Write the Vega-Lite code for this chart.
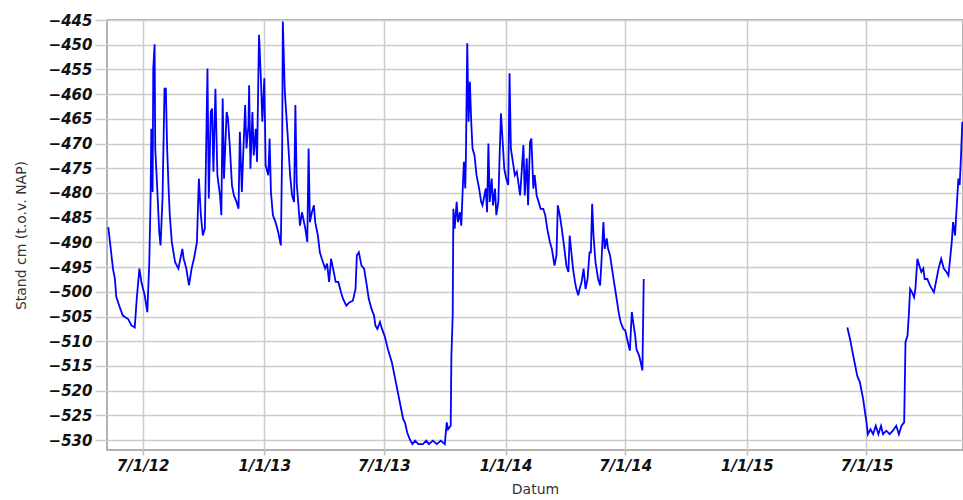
{
  "$schema": "https://vega.github.io/schema/vega-lite/v6.json",
  "width": 856,
  "height": 430,
  "autosize": {"type": "none"},
  "padding": {"left": 107, "top": 20, "right": 0, "bottom": 50},
  "background": "white",
  "config": {
    "view": {"stroke": "#999999", "strokeWidth": 1.5},
    "font": "DejaVu Sans"
  },
  "data": {
    "values": [
      {"date": "2012-05-10", "stand": -486.9},
      {"date": "2012-05-17", "stand": -495.3},
      {"date": "2012-05-20", "stand": -497.4},
      {"date": "2012-05-22", "stand": -501.0},
      {"date": "2012-05-28", "stand": -503.4},
      {"date": "2012-06-01", "stand": -504.8},
      {"date": "2012-06-09", "stand": -505.5},
      {"date": "2012-06-14", "stand": -506.8},
      {"date": "2012-06-19", "stand": -507.2},
      {"date": "2012-06-22", "stand": -501.4},
      {"date": "2012-06-26", "stand": -495.3},
      {"date": "2012-06-29", "stand": -498.0},
      {"date": "2012-07-04", "stand": -500.7},
      {"date": "2012-07-08", "stand": -504.1},
      {"date": "2012-07-11", "stand": -494.0},
      {"date": "2012-07-13", "stand": -480.5},
      {"date": "2012-07-14", "stand": -467.0},
      {"date": "2012-07-16", "stand": -479.8},
      {"date": "2012-07-17", "stand": -454.8},
      {"date": "2012-07-19", "stand": -449.9},
      {"date": "2012-07-20", "stand": -471.0},
      {"date": "2012-07-23", "stand": -479.1},
      {"date": "2012-07-26", "stand": -487.9},
      {"date": "2012-07-28", "stand": -490.6},
      {"date": "2012-07-31", "stand": -481.0},
      {"date": "2012-08-03", "stand": -458.9},
      {"date": "2012-08-05", "stand": -458.9},
      {"date": "2012-08-07", "stand": -471.0},
      {"date": "2012-08-09", "stand": -478.4},
      {"date": "2012-08-11", "stand": -484.5},
      {"date": "2012-08-14", "stand": -489.9},
      {"date": "2012-08-19", "stand": -494.0},
      {"date": "2012-08-24", "stand": -495.3},
      {"date": "2012-08-26", "stand": -494.0},
      {"date": "2012-08-30", "stand": -491.3},
      {"date": "2012-09-01", "stand": -493.3},
      {"date": "2012-09-05", "stand": -495.3},
      {"date": "2012-09-09", "stand": -498.7},
      {"date": "2012-09-13", "stand": -495.3},
      {"date": "2012-09-17", "stand": -493.0},
      {"date": "2012-09-21", "stand": -490.0},
      {"date": "2012-09-24", "stand": -477.1},
      {"date": "2012-09-27", "stand": -484.5},
      {"date": "2012-09-30", "stand": -488.6},
      {"date": "2012-10-03", "stand": -487.2},
      {"date": "2012-10-07", "stand": -454.8},
      {"date": "2012-10-09", "stand": -481.1},
      {"date": "2012-10-12", "stand": -463.6},
      {"date": "2012-10-14", "stand": -462.9},
      {"date": "2012-10-16", "stand": -475.7},
      {"date": "2012-10-19", "stand": -458.9},
      {"date": "2012-10-22", "stand": -476.4},
      {"date": "2012-10-26", "stand": -480.5},
      {"date": "2012-10-28", "stand": -484.5},
      {"date": "2012-10-30", "stand": -460.9},
      {"date": "2012-11-01", "stand": -477.1},
      {"date": "2012-11-05", "stand": -463.6},
      {"date": "2012-11-07", "stand": -464.9},
      {"date": "2012-11-10", "stand": -471.0},
      {"date": "2012-11-13", "stand": -478.4},
      {"date": "2012-11-16", "stand": -480.5},
      {"date": "2012-11-20", "stand": -481.8},
      {"date": "2012-11-23", "stand": -483.2},
      {"date": "2012-11-25", "stand": -467.6},
      {"date": "2012-11-28", "stand": -479.8},
      {"date": "2012-11-30", "stand": -472.4},
      {"date": "2012-12-03", "stand": -462.2},
      {"date": "2012-12-05", "stand": -471.0},
      {"date": "2012-12-08", "stand": -466.3},
      {"date": "2012-12-09", "stand": -458.2},
      {"date": "2012-12-11", "stand": -475.1},
      {"date": "2012-12-14", "stand": -463.6},
      {"date": "2012-12-16", "stand": -472.4},
      {"date": "2012-12-19", "stand": -467.0},
      {"date": "2012-12-21", "stand": -473.7},
      {"date": "2012-12-23", "stand": -456.1},
      {"date": "2012-12-24", "stand": -448.0},
      {"date": "2012-12-27", "stand": -457.5},
      {"date": "2012-12-29", "stand": -465.6},
      {"date": "2013-01-01", "stand": -456.8},
      {"date": "2013-01-03", "stand": -474.4},
      {"date": "2013-01-07", "stand": -476.4},
      {"date": "2013-01-09", "stand": -469.0},
      {"date": "2013-01-11", "stand": -479.8},
      {"date": "2013-01-14", "stand": -484.5},
      {"date": "2013-01-18", "stand": -485.9},
      {"date": "2013-01-22", "stand": -487.9},
      {"date": "2013-01-26", "stand": -490.6},
      {"date": "2013-01-28", "stand": -471.0},
      {"date": "2013-01-29", "stand": -445.3},
      {"date": "2013-02-01", "stand": -459.5},
      {"date": "2013-02-05", "stand": -467.6},
      {"date": "2013-02-09", "stand": -476.4},
      {"date": "2013-02-12", "stand": -480.5},
      {"date": "2013-02-15", "stand": -481.8},
      {"date": "2013-02-17", "stand": -462.2},
      {"date": "2013-02-19", "stand": -478.0},
      {"date": "2013-02-22", "stand": -483.2},
      {"date": "2013-02-24", "stand": -486.6},
      {"date": "2013-02-27", "stand": -483.9},
      {"date": "2013-03-02", "stand": -485.9},
      {"date": "2013-03-04", "stand": -487.2},
      {"date": "2013-03-07", "stand": -489.9},
      {"date": "2013-03-09", "stand": -471.0},
      {"date": "2013-03-11", "stand": -485.9},
      {"date": "2013-03-14", "stand": -483.9},
      {"date": "2013-03-17", "stand": -482.5},
      {"date": "2013-03-19", "stand": -485.9},
      {"date": "2013-03-23", "stand": -488.6},
      {"date": "2013-03-26", "stand": -492.0},
      {"date": "2013-03-29", "stand": -493.3},
      {"date": "2013-04-03", "stand": -495.3},
      {"date": "2013-04-06", "stand": -494.3},
      {"date": "2013-04-09", "stand": -498.0},
      {"date": "2013-04-12", "stand": -493.3},
      {"date": "2013-04-15", "stand": -495.3},
      {"date": "2013-04-19", "stand": -498.0},
      {"date": "2013-04-23", "stand": -498.0},
      {"date": "2013-04-27", "stand": -500.1},
      {"date": "2013-04-30", "stand": -501.4},
      {"date": "2013-05-05", "stand": -502.8},
      {"date": "2013-05-10", "stand": -502.1},
      {"date": "2013-05-15", "stand": -501.8},
      {"date": "2013-05-19", "stand": -499.4},
      {"date": "2013-05-21", "stand": -492.6},
      {"date": "2013-05-24", "stand": -492.0},
      {"date": "2013-05-28", "stand": -494.7},
      {"date": "2013-06-01", "stand": -495.3},
      {"date": "2013-06-05", "stand": -498.7},
      {"date": "2013-06-08", "stand": -501.4},
      {"date": "2013-06-12", "stand": -503.4},
      {"date": "2013-06-16", "stand": -504.8},
      {"date": "2013-06-18", "stand": -506.8},
      {"date": "2013-06-21", "stand": -507.5},
      {"date": "2013-06-25", "stand": -506.1},
      {"date": "2013-06-28", "stand": -507.5},
      {"date": "2013-07-02", "stand": -508.9},
      {"date": "2013-07-07", "stand": -511.6},
      {"date": "2013-07-13", "stand": -514.3},
      {"date": "2013-07-18", "stand": -517.6},
      {"date": "2013-07-23", "stand": -521.0},
      {"date": "2013-07-27", "stand": -523.7},
      {"date": "2013-07-30", "stand": -525.7},
      {"date": "2013-08-02", "stand": -526.5},
      {"date": "2013-08-05", "stand": -528.4},
      {"date": "2013-08-09", "stand": -529.8},
      {"date": "2013-08-13", "stand": -530.8},
      {"date": "2013-08-17", "stand": -530.1},
      {"date": "2013-08-22", "stand": -530.8},
      {"date": "2013-08-29", "stand": -530.8},
      {"date": "2013-09-03", "stand": -530.1},
      {"date": "2013-09-07", "stand": -530.8},
      {"date": "2013-09-13", "stand": -530.1},
      {"date": "2013-09-19", "stand": -530.8},
      {"date": "2013-09-25", "stand": -530.1},
      {"date": "2013-10-01", "stand": -530.8},
      {"date": "2013-10-04", "stand": -526.4},
      {"date": "2013-10-06", "stand": -527.8},
      {"date": "2013-10-10", "stand": -527.1},
      {"date": "2013-10-11", "stand": -512.9},
      {"date": "2013-10-13", "stand": -504.8},
      {"date": "2013-10-14", "stand": -483.2},
      {"date": "2013-10-16", "stand": -487.2},
      {"date": "2013-10-19", "stand": -481.8},
      {"date": "2013-10-21", "stand": -485.9},
      {"date": "2013-10-24", "stand": -483.9},
      {"date": "2013-10-26", "stand": -486.6},
      {"date": "2013-10-29", "stand": -476.4},
      {"date": "2013-10-30", "stand": -473.7},
      {"date": "2013-11-01", "stand": -479.1},
      {"date": "2013-11-02", "stand": -472.4},
      {"date": "2013-11-04", "stand": -449.7},
      {"date": "2013-11-06", "stand": -465.6},
      {"date": "2013-11-08", "stand": -457.5},
      {"date": "2013-11-10", "stand": -465.6},
      {"date": "2013-11-12", "stand": -471.0},
      {"date": "2013-11-15", "stand": -472.4},
      {"date": "2013-11-18", "stand": -476.4},
      {"date": "2013-11-22", "stand": -479.1},
      {"date": "2013-11-25", "stand": -481.8},
      {"date": "2013-11-27", "stand": -482.5},
      {"date": "2013-11-30", "stand": -480.5},
      {"date": "2013-12-02", "stand": -479.1},
      {"date": "2013-12-04", "stand": -483.9},
      {"date": "2013-12-06", "stand": -470.0},
      {"date": "2013-12-08", "stand": -481.8},
      {"date": "2013-12-11", "stand": -477.1},
      {"date": "2013-12-13", "stand": -482.5},
      {"date": "2013-12-16", "stand": -479.1},
      {"date": "2013-12-18", "stand": -484.5},
      {"date": "2013-12-21", "stand": -481.8},
      {"date": "2013-12-23", "stand": -472.4},
      {"date": "2013-12-25", "stand": -463.9},
      {"date": "2013-12-27", "stand": -468.3},
      {"date": "2013-12-30", "stand": -475.1},
      {"date": "2014-01-02", "stand": -477.1},
      {"date": "2014-01-05", "stand": -478.4},
      {"date": "2014-01-07", "stand": -455.8},
      {"date": "2014-01-09", "stand": -471.0},
      {"date": "2014-01-12", "stand": -473.7},
      {"date": "2014-01-15", "stand": -476.4},
      {"date": "2014-01-18", "stand": -475.7},
      {"date": "2014-01-23", "stand": -480.5},
      {"date": "2014-01-25", "stand": -476.4},
      {"date": "2014-01-28", "stand": -470.3},
      {"date": "2014-01-30", "stand": -480.5},
      {"date": "2014-02-02", "stand": -473.0},
      {"date": "2014-02-04", "stand": -482.5},
      {"date": "2014-02-07", "stand": -469.7},
      {"date": "2014-02-09", "stand": -469.0},
      {"date": "2014-02-12", "stand": -479.1},
      {"date": "2014-02-14", "stand": -476.4},
      {"date": "2014-02-17", "stand": -480.5},
      {"date": "2014-02-20", "stand": -481.8},
      {"date": "2014-02-23", "stand": -483.2},
      {"date": "2014-02-27", "stand": -483.2},
      {"date": "2014-03-02", "stand": -484.5},
      {"date": "2014-03-05", "stand": -487.2},
      {"date": "2014-03-09", "stand": -489.9},
      {"date": "2014-03-12", "stand": -491.3},
      {"date": "2014-03-16", "stand": -494.7},
      {"date": "2014-03-19", "stand": -492.6},
      {"date": "2014-03-21", "stand": -482.5},
      {"date": "2014-03-24", "stand": -484.5},
      {"date": "2014-03-27", "stand": -487.2},
      {"date": "2014-03-31", "stand": -491.3},
      {"date": "2014-04-03", "stand": -494.7},
      {"date": "2014-04-06", "stand": -496.0},
      {"date": "2014-04-08", "stand": -488.6},
      {"date": "2014-04-11", "stand": -492.6},
      {"date": "2014-04-13", "stand": -495.3},
      {"date": "2014-04-16", "stand": -498.0},
      {"date": "2014-04-18", "stand": -499.4},
      {"date": "2014-04-21", "stand": -500.7},
      {"date": "2014-04-23", "stand": -499.4},
      {"date": "2014-04-26", "stand": -498.0},
      {"date": "2014-04-29", "stand": -495.3},
      {"date": "2014-05-02", "stand": -499.4},
      {"date": "2014-05-05", "stand": -497.4},
      {"date": "2014-05-08", "stand": -492.0},
      {"date": "2014-05-10", "stand": -492.0},
      {"date": "2014-05-12", "stand": -482.2},
      {"date": "2014-05-14", "stand": -488.6},
      {"date": "2014-05-17", "stand": -494.0},
      {"date": "2014-05-21", "stand": -497.4},
      {"date": "2014-05-24", "stand": -498.7},
      {"date": "2014-05-26", "stand": -494.0},
      {"date": "2014-05-29", "stand": -485.9},
      {"date": "2014-05-31", "stand": -491.3},
      {"date": "2014-06-03", "stand": -489.2},
      {"date": "2014-06-05", "stand": -491.3},
      {"date": "2014-06-08", "stand": -492.6},
      {"date": "2014-06-11", "stand": -495.3},
      {"date": "2014-06-14", "stand": -498.0},
      {"date": "2014-06-18", "stand": -501.4},
      {"date": "2014-06-21", "stand": -504.1},
      {"date": "2014-06-24", "stand": -506.1},
      {"date": "2014-06-28", "stand": -507.5},
      {"date": "2014-07-01", "stand": -507.8},
      {"date": "2014-07-05", "stand": -510.2},
      {"date": "2014-07-08", "stand": -511.9},
      {"date": "2014-07-11", "stand": -504.1},
      {"date": "2014-07-13", "stand": -506.1},
      {"date": "2014-07-16", "stand": -508.8},
      {"date": "2014-07-18", "stand": -511.6},
      {"date": "2014-07-22", "stand": -512.9},
      {"date": "2014-07-25", "stand": -514.6},
      {"date": "2014-07-27", "stand": -515.9},
      {"date": "2014-07-29", "stand": -497.4},
      {"date": "2015-01-01", "stand": null},
      {"date": "2015-06-02", "stand": -507.2},
      {"date": "2015-06-06", "stand": -509.5},
      {"date": "2015-06-09", "stand": -511.6},
      {"date": "2015-06-13", "stand": -514.3},
      {"date": "2015-06-17", "stand": -517.0},
      {"date": "2015-06-21", "stand": -518.3},
      {"date": "2015-06-23", "stand": -519.7},
      {"date": "2015-06-26", "stand": -521.7},
      {"date": "2015-06-28", "stand": -523.7},
      {"date": "2015-07-01", "stand": -526.4},
      {"date": "2015-07-03", "stand": -528.8},
      {"date": "2015-07-07", "stand": -527.8},
      {"date": "2015-07-11", "stand": -528.8},
      {"date": "2015-07-15", "stand": -527.1},
      {"date": "2015-07-19", "stand": -528.8},
      {"date": "2015-07-23", "stand": -527.1},
      {"date": "2015-07-26", "stand": -528.8},
      {"date": "2015-07-31", "stand": -528.1},
      {"date": "2015-08-05", "stand": -528.8},
      {"date": "2015-08-10", "stand": -528.1},
      {"date": "2015-08-15", "stand": -527.1},
      {"date": "2015-08-19", "stand": -528.8},
      {"date": "2015-08-23", "stand": -527.1},
      {"date": "2015-08-27", "stand": -526.4},
      {"date": "2015-08-29", "stand": -510.2},
      {"date": "2015-09-01", "stand": -508.9},
      {"date": "2015-09-03", "stand": -504.8},
      {"date": "2015-09-05", "stand": -499.4},
      {"date": "2015-09-08", "stand": -500.1},
      {"date": "2015-09-11", "stand": -501.1},
      {"date": "2015-09-13", "stand": -499.4},
      {"date": "2015-09-16", "stand": -493.3},
      {"date": "2015-09-19", "stand": -494.7},
      {"date": "2015-09-22", "stand": -496.0},
      {"date": "2015-09-25", "stand": -495.3},
      {"date": "2015-09-27", "stand": -497.4},
      {"date": "2015-10-01", "stand": -497.4},
      {"date": "2015-10-05", "stand": -498.7},
      {"date": "2015-10-08", "stand": -499.4},
      {"date": "2015-10-11", "stand": -500.1},
      {"date": "2015-10-15", "stand": -497.4},
      {"date": "2015-10-18", "stand": -495.3},
      {"date": "2015-10-22", "stand": -493.3},
      {"date": "2015-10-26", "stand": -495.3},
      {"date": "2015-10-30", "stand": -496.0},
      {"date": "2015-11-02", "stand": -496.7},
      {"date": "2015-11-06", "stand": -491.3},
      {"date": "2015-11-07", "stand": -489.9},
      {"date": "2015-11-09", "stand": -485.9},
      {"date": "2015-11-12", "stand": -488.6},
      {"date": "2015-11-14", "stand": -483.9},
      {"date": "2015-11-17", "stand": -477.1},
      {"date": "2015-11-19", "stand": -478.4},
      {"date": "2015-11-21", "stand": -472.4},
      {"date": "2015-11-23", "stand": -465.6}
    ]
  },
  "mark": {
    "type": "line",
    "color": "#0000ff",
    "strokeWidth": 1.8,
    "clip": true,
    "invalid": "break-paths-show-domains"
  },
  "encoding": {
    "x": {
      "field": "date",
      "type": "temporal",
      "title": "Datum",
      "scale": {
        "domain": [
          {"year": 2012, "month": 5, "date": 8},
          {"year": 2015, "month": 11, "date": 24}
        ]
      },
      "axis": {
        "values": [
          {"year": 2012, "month": 7, "date": 1},
          {"year": 2013, "month": 1, "date": 1},
          {"year": 2013, "month": 7, "date": 1},
          {"year": 2014, "month": 1, "date": 1},
          {"year": 2014, "month": 7, "date": 1},
          {"year": 2015, "month": 1, "date": 1},
          {"year": 2015, "month": 7, "date": 1}
        ],
        "format": "%-m/%-d/%y",
        "labelFont": "DejaVu Sans",
        "labelFontSize": 15,
        "labelFontWeight": "bold",
        "labelFontStyle": "oblique",
        "labelColor": "#111111",
        "labelPadding": 3,
        "tickSize": 5,
        "tickColor": "#bbbbbb",
        "tickWidth": 1.5,
        "domain": false,
        "grid": true,
        "gridColor": "#cccccc",
        "gridWidth": 1.5,
        "titleFont": "DejaVu Sans",
        "titleFontSize": 14,
        "titleFontWeight": "normal",
        "titleColor": "#333333",
        "titlePadding": 9
      }
    },
    "y": {
      "field": "stand",
      "type": "quantitative",
      "title": "Stand cm (t.o.v. NAP)",
      "scale": {"domain": [-532, -445], "nice": false, "zero": false},
      "axis": {
        "values": [-530, -525, -520, -515, -510, -505, -500, -495, -490, -485, -480, -475, -470, -465, -460, -455, -450, -445],
        "labelFont": "DejaVu Sans",
        "labelFontSize": 15,
        "labelFontWeight": "bold",
        "labelFontStyle": "oblique",
        "labelColor": "#111111",
        "labelPadding": 3,
        "tickSize": 12,
        "tickColor": "#cccccc",
        "tickWidth": 1.5,
        "domain": false,
        "grid": true,
        "gridColor": "#cccccc",
        "gridWidth": 1.5,
        "titleFont": "DejaVu Sans",
        "titleFontSize": 14,
        "titleFontWeight": "normal",
        "titleColor": "#333333",
        "titlePadding": 20
      }
    }
  }
}
